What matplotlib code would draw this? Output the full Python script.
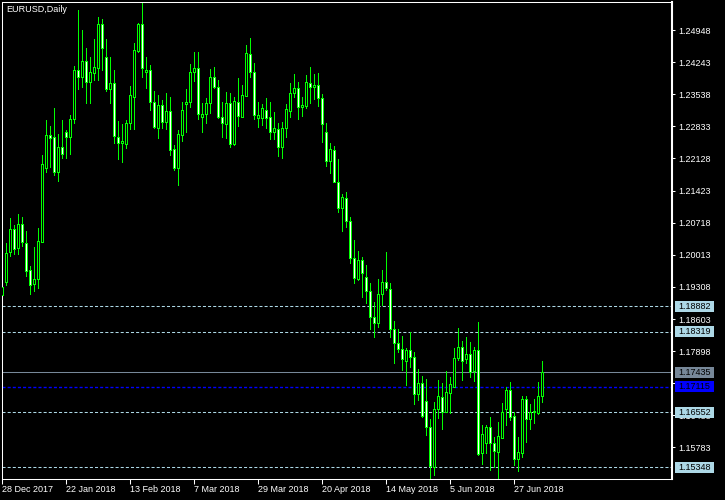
import matplotlib
matplotlib.use("Agg")
import matplotlib.pyplot as plt
from matplotlib.patches import Rectangle
from matplotlib.transforms import blended_transform_factory

plt.rcParams['font.family'] = ['Liberation Sans', 'DejaVu Sans']
plt.rcParams['lines.scale_dashes'] = False

title = "EURUSD,Daily"

opens = [1.19131,1.19423,1.20081,1.20573,1.20156,1.20689,1.20272,1.19679,1.19365,1.19471,
         1.20301,1.21912,1.22643,1.22593,1.21838,1.22373,1.22709,1.22606,1.22988,1.24070,
         1.23923,1.24268,1.23813,1.24011,1.24121,1.25074,1.24349,1.23660,1.23778,1.22606,
         1.22461,1.22439,1.22900,1.23484,1.24487,1.25080,1.24020,1.24070,1.23361,1.22803,
         1.23295,1.22935,1.23170,1.22329,1.21925,1.22654,1.23317,1.23361,1.24033,1.24108,
         1.23045,1.23098,1.23339,1.23910,1.23690,1.23045,1.22878,1.23339,1.22439,1.23374,
         1.23045,1.23499,1.24415,1.24020,1.23023,1.23010,1.23192,1.23032,1.22702,1.22768,
         1.22386,1.22790,1.23177,1.23559,1.23668,1.23251,1.23286,1.23778,1.23690,1.23734,
         1.23449,1.22702,1.22079,1.22314,1.21605,1.21034,1.21254,1.20762,1.19936,1.19482,
         1.19899,1.19519,1.19225,1.18641,1.18509,1.19146,1.19423,1.19256,1.18377,1.18070,
         1.17938,1.17688,1.17923,1.17776,1.16951,1.17205,1.16810,1.16239,1.15348,1.16628,
         1.16898,1.16569,1.16972,1.17117,1.17741,1.17982,1.17726,1.17835,1.17462,1.17923,
         1.15669,1.15875,1.16239,1.15875,1.15690,1.15985,1.16628,1.17045,1.16474,1.15524,
         1.15669,1.16847,1.16402,1.16569,1.16547,1.16913]
highs = [1.19460,1.20272,1.20821,1.20667,1.20909,1.20836,1.20529,1.19767,1.20184,1.20601,
         1.22204,1.22973,1.22841,1.23229,1.22665,1.22973,1.22753,1.23082,1.24158,1.25387,
         1.24948,1.24547,1.24349,1.24744,1.25227,1.25190,1.24751,1.24349,1.24070,1.22951,
         1.22885,1.22973,1.23719,1.24670,1.25109,1.25548,1.24349,1.24180,1.23609,1.23521,
         1.23412,1.23559,1.23471,1.22424,1.22753,1.23361,1.23647,1.24202,1.24465,1.24465,
         1.23339,1.23449,1.24086,1.24129,1.23851,1.23361,1.23594,1.23559,1.23484,1.23888,
         1.23741,1.24619,1.24766,1.24217,1.23368,1.23324,1.23449,1.23374,1.23142,1.22900,
         1.22929,1.23324,1.23778,1.23982,1.23800,1.23471,1.23960,1.24129,1.23982,1.23998,
         1.23543,1.22900,1.22461,1.22402,1.22116,1.21341,1.21385,1.20850,1.20338,1.20097,
         1.19971,1.19789,1.19387,1.18970,1.19475,1.19679,1.20075,1.19401,1.18560,1.18384,
         1.18230,1.17960,1.18325,1.17886,1.17506,1.17352,1.17286,1.16408,1.16775,1.17264,
         1.17192,1.17462,1.17337,1.17960,1.18413,1.18121,1.18202,1.18092,1.17982,1.18531,
         1.16277,1.16277,1.16446,1.16020,1.16349,1.16753,1.17117,1.17227,1.16569,1.16020,
         1.16913,1.16913,1.16738,1.16841,1.17227,1.17682]
lows = [1.18977,1.19350,1.19987,1.20024,1.20031,1.20206,1.19548,1.19153,1.19225,1.19284,
        1.20294,1.21838,1.21947,1.21765,1.21640,1.22145,1.22145,1.22226,1.22913,1.23647,
        1.23704,1.23352,1.23352,1.23851,1.23851,1.24070,1.23616,1.23339,1.22461,1.22116,
        1.22057,1.22351,1.22768,1.22768,1.24459,1.23923,1.23682,1.23192,1.22803,1.22584,
        1.22803,1.22775,1.22204,1.21875,1.21546,1.22522,1.22702,1.23265,1.23835,1.22988,
        1.22716,1.22900,1.23120,1.23668,1.23010,1.22593,1.22571,1.22386,1.22424,1.22847,
        1.23045,1.23499,1.23923,1.22988,1.22825,1.22863,1.22803,1.22549,1.22555,1.22189,
        1.22145,1.22606,1.23032,1.23471,1.22988,1.23067,1.23229,1.23352,1.23427,1.23286,
        1.22496,1.21963,1.21816,1.21605,1.20959,1.20542,1.20630,1.19826,1.19387,1.19460,
        1.19093,1.18962,1.18377,1.18215,1.18435,1.18911,1.19240,1.18202,1.17631,1.17886,
        1.17484,1.17155,1.17557,1.16738,1.16825,1.16446,1.16057,1.15106,1.15179,1.16424,
        1.16182,1.16569,1.16533,1.17111,1.17704,1.17264,1.17631,1.17337,1.17243,1.15618,
        1.15420,1.15655,1.15289,1.15348,1.15091,1.15985,1.16277,1.16386,1.15398,1.15267,
        1.15581,1.15910,1.16189,1.16314,1.16511,1.16788]
closes = [1.19306,1.20046,1.20573,1.20147,1.20689,1.20301,1.19664,1.19361,1.19482,1.20316,
          1.22007,1.22643,1.22584,1.21838,1.22373,1.22220,1.22606,1.22988,1.24070,1.23923,
          1.24268,1.23813,1.24033,1.24129,1.25074,1.24560,1.23660,1.23778,1.22628,1.22461,
          1.22511,1.22900,1.23515,1.24509,1.25080,1.24108,1.24070,1.23361,1.22825,1.23295,
          1.22935,1.23170,1.22314,1.21925,1.22659,1.23186,1.23361,1.24033,1.24108,1.23098,
          1.23098,1.23339,1.23910,1.23690,1.23045,1.22900,1.23339,1.22439,1.23390,1.23060,
          1.23515,1.24437,1.24020,1.23082,1.23082,1.23229,1.23010,1.22702,1.22790,1.22386,
          1.22803,1.23207,1.23559,1.23668,1.23265,1.23302,1.23800,1.23690,1.23734,1.23449,
          1.22878,1.22079,1.22329,1.21605,1.21034,1.21289,1.20762,1.19936,1.19497,1.19899,
          1.19607,1.19225,1.18641,1.18509,1.19153,1.19423,1.19278,1.18377,1.18070,1.17938,
          1.17719,1.17923,1.17776,1.16951,1.17192,1.16481,1.16239,1.15383,1.16628,1.16913,
          1.16569,1.16994,1.17177,1.17741,1.17982,1.17688,1.17835,1.17447,1.17923,1.15640,
          1.16079,1.16239,1.15875,1.15712,1.16035,1.16569,1.17045,1.16459,1.15524,1.15677,
          1.16847,1.16402,1.16569,1.16584,1.16913,1.17440]

date_labels = ["28 Dec 2017", "22 Jan 2018", "13 Feb 2018", "7 Mar 2018", "29 Mar 2018",
               "20 Apr 2018", "14 May 2018", "5 Jun 2018", "27 Jun 2018"]
date_bar_index = [0, 16, 32, 48, 64, 80, 96, 112, 128]

price_ticks = [1.24948, 1.24243, 1.23538, 1.22833, 1.22128, 1.21423, 1.20718,
               1.20013, 1.19308, 1.18603, 1.17898, 1.17193, 1.16488, 1.15783]

dashed_levels = [1.18882, 1.18319, 1.16552, 1.15348]
bid_level = 1.17435
blue_level = 1.17115

GREEN = '#00FF00'
LIGHTBLUE = '#ADD8E6'
SLATE = '#778899'
FS = 6.5

W, H = 725, 500
fig = plt.figure(figsize=(W / 100, H / 100), dpi=100, facecolor='black')
ax = fig.add_axes([2 / W, (H - 479) / H, 670 / W, 477 / H], facecolor='black')

ppx = 0.00021954
p0 = 1.25607
ax.set_ylim(p0 - ppx * 479, p0 - ppx * 2)
ax.set_xlim((2 - 2.3) / 4, (672 - 2.3) / 4)

# horizontal level lines
for lv in dashed_levels:
    ax.axhline(lv, color=LIGHTBLUE, lw=0.75, ls=(0, (2.2, 1.5)), zorder=1)
ax.axhline(bid_level, color=SLATE, lw=0.75, zorder=1)
ax.axhline(blue_level, color='#0000FF', lw=1.0, ls=(0, (2.2, 1.5)), zorder=1)

# candles
xs = list(range(len(opens)))
ax.vlines(xs, lows, highs, color=GREEN, lw=0.5, zorder=2, antialiased=False)
bottoms = [min(o, c) for o, c in zip(opens, closes)]
heights = [max(abs(c - o), 1e-6) for o, c in zip(opens, closes)]
fills = ['black' if c >= o else 'white' for o, c in zip(opens, closes)]
ax.bar(xs, heights, bottom=bottoms, width=0.5, color=fills, edgecolor=GREEN,
       linewidth=0.5, zorder=3, antialiased=False)

# axes styling
for s in ['top', 'left', 'bottom']:
    ax.spines[s].set_color('white')
    ax.spines[s].set_linewidth(0.75)
ax.spines['right'].set_color('white')
ax.spines['right'].set_linewidth(1.5)

ax.yaxis.tick_right()
ax.set_yticks(price_ticks)
ax.set_yticklabels([f"{v:.5f}" for v in price_ticks])
ax.tick_params(axis='y', colors='white', length=2.2, width=0.75, pad=2.2, labelsize=FS)

ax.set_xticks(date_bar_index)
ax.set_xticklabels(date_labels, ha='left')
ax.tick_params(axis='x', colors='white', length=3.6, width=0.75, pad=0.8, labelsize=FS)

# price label boxes on the right scale (cover the tick labels beneath, as in MT4)
tr = blended_transform_factory(fig.transFigure, ax.transData)
half = 5.5 * ppx
boxes = [(lv, LIGHTBLUE, 'black') for lv in dashed_levels] + \
        [(bid_level, SLATE, 'black'), (blue_level, '#0000FF', 'black')]
for lv, fc, tc in boxes:
    ax.add_patch(Rectangle((675 / W, lv - half), 39 / W, 2 * half, transform=tr,
                           facecolor=fc, edgecolor='none', clip_on=False, zorder=5))
    ax.text(678 / W, lv, f"{lv:.5f}", transform=tr, color=tc, fontsize=FS,
            va='center', ha='left', clip_on=False, zorder=6)

fig.text(6 / W, 1 - 9.5 / H, title, color='white', fontsize=FS, va='center', ha='left')

fig.savefig('out.png', dpi=100, facecolor='black')
